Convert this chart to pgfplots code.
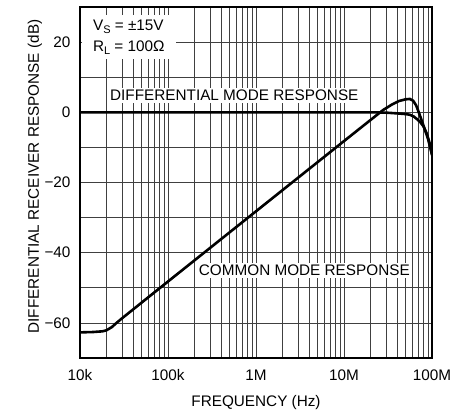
\documentclass[border=0pt]{standalone}
\usepackage{pgfplots}
\pgfplotsset{compat=1.18}
\usepackage{fontspec}
\setmainfont{Liberation Sans}
\newcommand{\lbl}{\fontsize{15.3}{21}\selectfont}
\begin{document}
\begin{tikzpicture}
\useasboundingbox (-80pt,-58pt) rectangle (375pt,358pt);
\begin{axis}[
  at={(0pt,0pt)}, anchor=south west,
  scale only axis, width=352pt, height=351pt,
  xmode=log, xmin=1e4, xmax=1e8, ymin=-70, ymax=30,
  xtick={1e4,1e5,1e6,1e7,1e8},
  xticklabels={10k,100k,1M,10M,100M},
  minor xtick={2e4,3e4,4e4,5e4,6e4,7e4,8e4,9e4,
               2e5,3e5,4e5,5e5,6e5,7e5,8e5,9e5,
               2e6,3e6,4e6,5e6,6e6,7e6,8e6,9e6,
               2e7,3e7,4e7,5e7,6e7,7e7,8e7,9e7},
  ytick={-60,-40,-20,0,20},
  yticklabels={−60,−40,−20,0,20},
  minor ytick={-70,-50,-30,-10,10,30},
  grid=both,
  major grid style={black!75, line width=0.75pt},
  minor grid style={black!75, line width=0.75pt},
  major tick length=0pt, minor tick length=0pt,
  axis line style={line width=1.4pt},
  tick label style={font=\lbl},
  xticklabel style={yshift=-8pt},
  yticklabel style={xshift=-6pt},
  xlabel={FREQUENCY (Hz)},
  ylabel={DIFFERENTIAL RECEIVER RESPONSE (dB)},
  label style={font=\lbl},
  xlabel style={at={(axis description cs:0.5,-0.128)}, anchor=center},
  ylabel style={at={(axis description cs:-0.128,0.517)}, anchor=center, rotate=0},
]
\node[fill=white, inner xsep=11pt, inner ysep=5pt, anchor=north west, align=left, font=\lbl]
  at (axis cs:1.05e4,27.8)
  {V\raisebox{-3pt}{\fontsize{11}{11}\selectfont S} = ±15V\\R\raisebox{-3pt}{\fontsize{11}{11}\selectfont L} = 100Ω};
\node[fill=white, inner sep=2pt, anchor=west, font=\lbl]
  at (axis cs:2.08e4,4.9) {DIFFERENTIAL MODE RESPONSE};
\node[fill=white, inner sep=2pt, anchor=west, font=\lbl]
  at (axis cs:2.12e5,-45) {COMMON MODE RESPONSE};
% differential mode
\addplot[black, line width=2.6pt] coordinates {
  (1e4,0) (2e7,0) (3e7,-0.1) (4e7,-0.3) (5e7,-0.5) (5.6e7,-0.7) (6.2e7,-1.2)
  (6.8e7,-2) (7.3e7,-2.7) (8e7,-4) (8.7e7,-6) (9.4e7,-8.8) (1e8,-12.2)
};
% common mode
\addplot[black, line width=2.6pt] coordinates {
  (1e4,-62.7) (1.4e4,-62.6) (1.8e4,-62.4) (2e4,-62.1) (2.3e4,-61.2) (2.6e4,-60.0)
  (3e4,-58.7) (1e5,-48.2) (1e6,-28.2) (1e7,-8.2) (2e7,-2.2) (2.8e7,0.7)
  (3.5e7,2.2) (4.2e7,3.2) (5e7,3.7) (5.6e7,3.8) (6.1e7,3.3) (6.6e7,2.0)
  (7.2e7,-0.5) (8e7,-3.8) (9e7,-7.5) (1e8,-12)
};
\end{axis}
\end{tikzpicture}
\end{document}
